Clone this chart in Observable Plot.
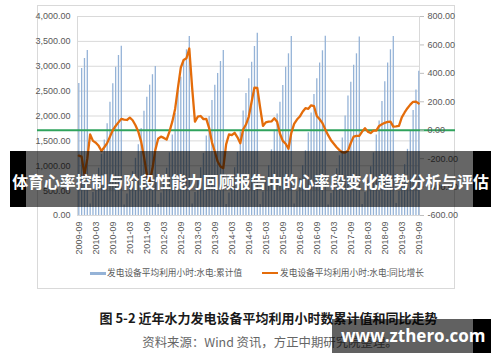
<!DOCTYPE html>
<html><head><meta charset="utf-8">
<script src="https://cdn.jsdelivr.net/npm/d3@7"></script>
<script src="https://cdn.jsdelivr.net/npm/@observablehq/plot@0.6"></script>
<style>
body{margin:0;background:#fff;}
#wrap{position:relative;width:500px;height:362px;overflow:hidden;font-family:"Liberation Sans","Noto Sans CJK SC",sans-serif;}
#frame{position:absolute;left:37px;top:5px;width:418px;height:284px;box-sizing:border-box;border:1px solid #d9d9d9;}
#chart{position:absolute;left:0;top:0;}
.leg{position:absolute;font-family:"Noto Sans CJK SC",sans-serif;font-size:8.7px;color:#595959;white-space:nowrap;line-height:12px;}
.sw{position:absolute;}
#cap{position:absolute;left:0;width:537px;top:308px;text-align:center;font-family:"Noto Sans CJK SC",sans-serif;font-weight:700;font-size:13px;color:#1a1a1a;line-height:20px;white-space:nowrap;}
#src{position:absolute;left:0;width:540px;top:333px;text-align:center;font-family:"Noto Sans CJK SC",sans-serif;font-size:12.4px;color:#666;line-height:18px;white-space:nowrap;}
#banner{position:absolute;left:10px;top:151px;width:481px;height:56px;}
#banner .b{position:absolute;top:0;height:100%;}
#btxt{position:absolute;left:-20px;width:521px;top:0;line-height:62px;text-align:center;color:#fff;font-family:"Noto Sans CJK SC",sans-serif;font-weight:700;font-size:15.9px;white-space:nowrap;}
#wm{position:absolute;left:332px;top:319px;width:159px;height:34px;}
#wm .b{position:absolute;top:0;height:100%;}
#wtxt{position:absolute;left:9px;top:0;line-height:34px;color:#fff;font-family:"Open Sans",sans-serif;font-weight:700;font-size:17px;white-space:nowrap;}
</style></head>
<body>
<div id="wrap">
  <div id="frame"></div>
  <div id="chart"></div>
  <div class="sw" style="left:90px;top:272px;width:16px;height:3px;background:#95b3d7"></div>
  <div class="leg" style="left:107px;top:267px">发电设备平均利用小时:水电:累计值</div>
  <div class="sw" style="left:262px;top:272px;width:16px;height:2px;background:#e46c0a"></div>
  <div class="leg" style="left:280px;top:267px">发电设备平均利用小时:水电:同比增长</div>
  <div id="cap">图 5-2 近年水力发电设备平均利用小时数累计值和同比走势</div>
  <div id="src">资料来源：Wind 资讯，方正中期研究院整理。</div>
  <div id="banner">
    <div class="b" style="left:0;width:16px;background:#000"></div>
    <div class="b" style="left:16px;width:447px;background:rgba(0,0,0,0.6)"></div>
    <div class="b" style="left:463px;width:18px;background:#000"></div>
    <div id="btxt">体育心率控制与阶段性能力回顾报告中的心率段变化趋势分析与评估</div>
  </div>
  <div id="wm">
    <div class="b" style="left:0;width:141px;background:rgba(0,0,0,0.62)"></div>
    <div class="b" style="left:141px;width:18px;background:#000"></div>
    <div id="wtxt">www.zthero.com</div>
  </div>
</div>
<script>
// x tick labels (every 6 months, 2009-09 .. 2019-09)
const tickLabels = ["2009-09","2010-03","2010-09","2011-03","2011-09","2012-03","2012-09","2013-03","2013-09","2014-03","2014-09","2015-03","2015-09","2016-03","2016-09","2017-03","2017-09","2018-03","2018-09","2019-03","2019-09"];

// 发电设备平均利用小时:水电:累计值 (hours), monthly
const hours2009 = [2653, 2955, 3156, 3317]; // Sep-Dec
const hours2010 = [230, 460, 690, 950, 1230, 1520, 1843, 2277, 2647, 2981, 3216, 3404];
const hours2011 = [210, 430, 640, 880, 1150, 1420, 1750, 2096, 2379, 2620, 2830, 2995];
const hours2012 = [220, 450, 680, 950, 1260, 1620, 2050, 2513, 2780, 3085, 3330, 3600];
const hours2013 = [230, 460, 700, 960, 1250, 1600, 1990, 2312, 2616, 2855, 3095, 3317];
const hours2014 = [220, 450, 690, 960, 1270, 1680, 2100, 2450, 2750, 3080, 3397, 3664];
const hours2015 = [220, 470, 720, 1000, 1320, 1720, 2040, 2277, 2613, 2981, 3250, 3598];
const hours2016 = [230, 480, 740, 1000, 1300, 1663, 2062, 2430, 2750, 3065, 3311, 3605];
const hours2017 = [210, 440, 680, 940, 1200, 1560, 2000, 2400, 2680, 3020, 3250, 3586];
const hours2018 = [220, 460, 710, 980, 1260, 1620, 1900, 2292, 2690, 3065, 3331, 3597];
const hours2019 = [240, 480, 740, 1020, 1330, 1700, 2111, 2525, 2900]; // Jan-Sep

// 发电设备平均利用小时:水电:同比增长 (right axis)
const yoy2009 = [-179, -186, -314, -200];
const yoy2010 = [-30, -75, -88, -110, -146, -120, -91, -45, 0, 30, 55, 80];
const yoy2011 = [75, 72, 88, 70, 35, -10, -80, -186, -310, -360, -270, -140];
const yoy2012 = [-60, -45, -54, -66, -10, 60, 150, 300, 440, 494, 506, 575];
const yoy2013 = [300, 60, 95, 100, 78, 80, 15, -85, -150, -220, -255, -267];
const yoy2014 = [-100, -30, -35, -18, -50, -92, 5, 40, 96, 200, 300, 298];
const yoy2015 = [160, 30, 55, 60, 62, 84, 60, -25, -75, -95, -130, -20];
const yoy2016 = [45, 75, 96, 130, 155, 150, 175, 170, 100, 77, 50, 5];
const yoy2017 = [-35, -70, -95, -120, -140, -155, -157, -145, -90, -45, -40, -40];
const yoy2018 = [-10, 14, -10, -20, -3, -3, 30, 42, 52, 58, 60, 25];
const yoy2019 = [27, 30, 90, 125, 155, 180, 200, 201, 188];

const leftTicks = [0, 500, 1000, 1500, 2000, 2500, 3000, 3500, 4000];
const rightTicks = [-600, -400, -200, 0, 200, 400, 600, 800];
const leftMax = 4000, rightMin = -600, rightMax = 800;

const hours = [].concat(hours2009, hours2010, hours2011, hours2012, hours2013, hours2014, hours2015, hours2016, hours2017, hours2018, hours2019);
const yoy = [].concat(yoy2009, yoy2010, yoy2011, yoy2012, yoy2013, yoy2014, yoy2015, yoy2016, yoy2017, yoy2018, yoy2019);
const data = hours.map((v, i) => ({i, v, g: yoy[i]}));

const toLeft = r => (r - rightMin) * leftMax / (rightMax - rightMin);
const tickIdx = tickLabels.map((_, k) => k * 6);

const chart = Plot.plot({
  width: 500, height: 262,
  marginLeft: 77, marginRight: 81, marginTop: 16, marginBottom: 47,
  style: {background: "transparent", fontFamily: "'Liberation Sans', sans-serif", fontSize: "9px", color: "#595959", overflow: "visible"},
  x: {type: "linear", domain: [-0.46, 120.25], label: null},
  y: {domain: [0, leftMax], label: null},
  marks: [
    Plot.gridY({ticks: leftTicks, stroke: "#d9d9d9", strokeOpacity: 1}),
    Plot.frame({stroke: "#d9d9d9"}),
    Plot.ruleX(data, {x: "i", y1: 0, y2: "v", stroke: "#95b3d7", strokeWidth: 1.3}),
    Plot.ruleY([toLeft(0)], {stroke: "#2fa35c", strokeWidth: 2, insetLeft: -40, insetRight: -36}),
    Plot.line(data, {x: "i", y: d => toLeft(d.g), stroke: "#e46c0a", strokeWidth: 2.3, curve: "linear"}),
    Plot.axisY({ticks: leftTicks, tickFormat: d3.format(",.2f"), tickSize: 0, tickPadding: 7, label: null, fill: "#595959"}),
    Plot.axisY({anchor: "right", ticks: rightTicks.map(toLeft), tickFormat: d => (Math.round(d * (rightMax - rightMin) / leftMax + rightMin)).toFixed(2), tickSize: 4, tickPadding: 4, label: null, stroke: "#bfbfbf", fill: "#595959"}),
    Plot.axisX({ticks: tickIdx, tickFormat: i => tickLabels[i / 6], tickRotate: -90, tickSize: 0, tickPadding: 6, label: null, fill: "#595959"})
  ]
});
document.getElementById("chart").appendChild(chart);
</script>
</body></html>
